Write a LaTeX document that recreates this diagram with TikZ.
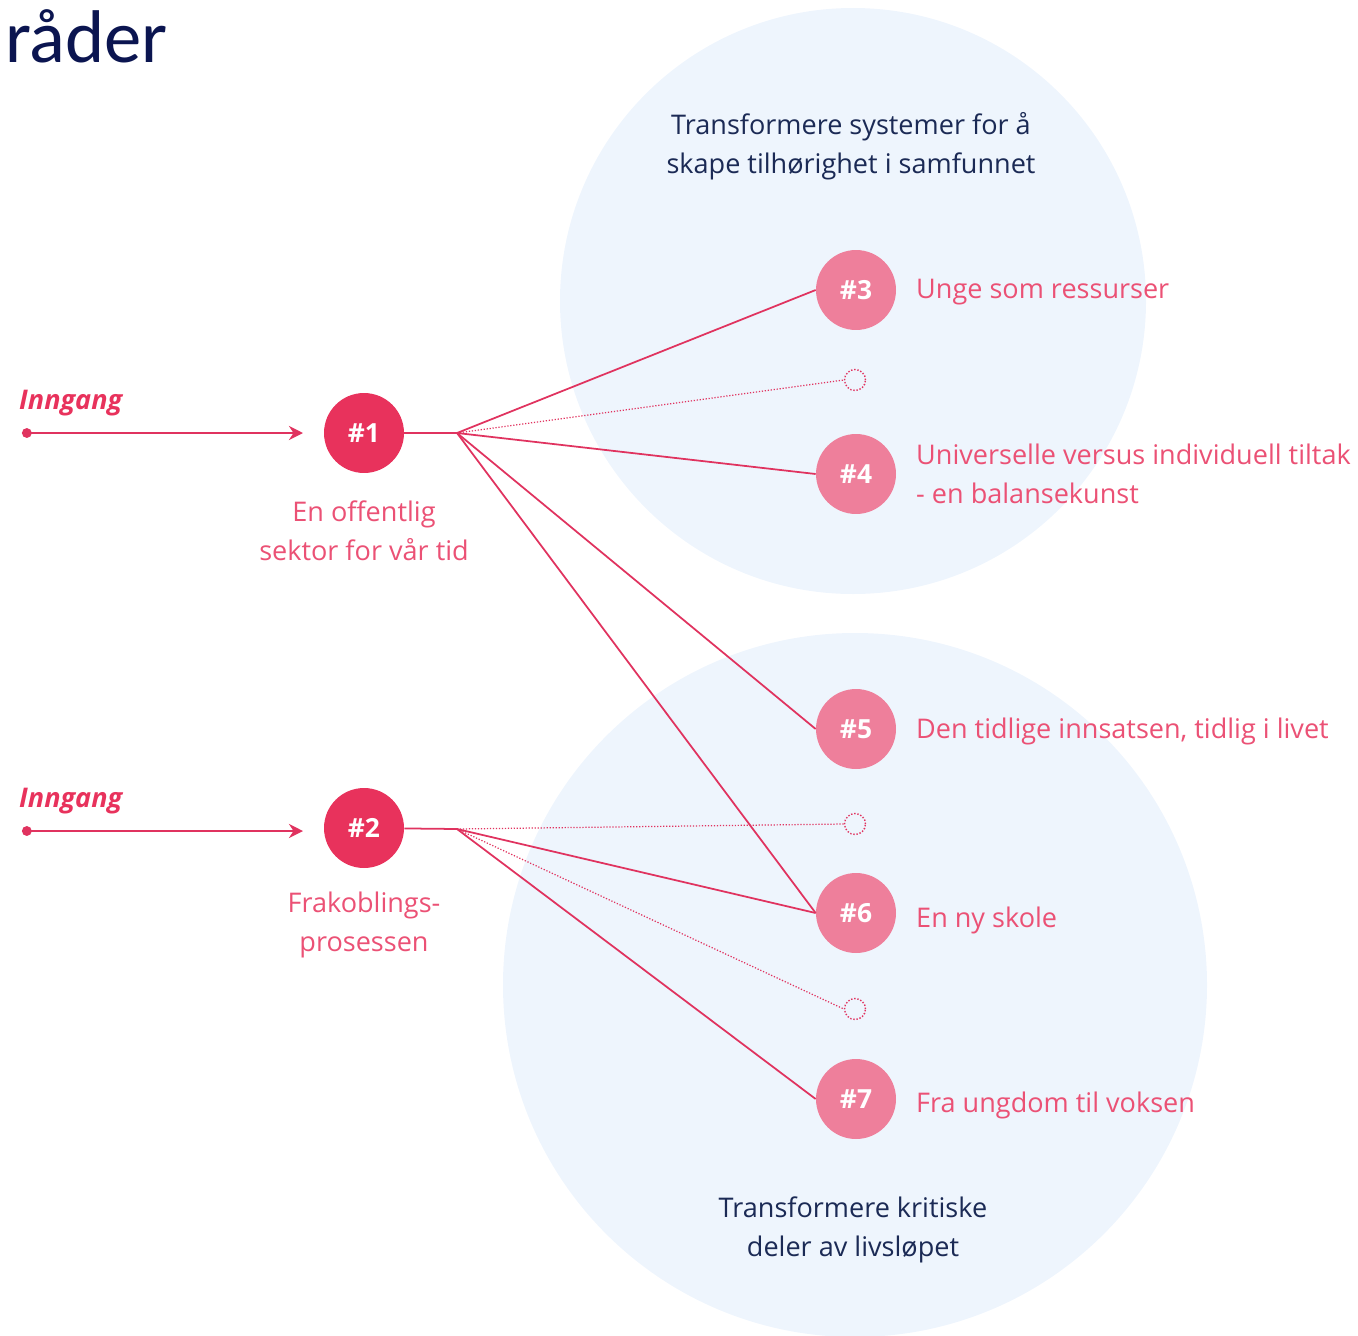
\documentclass[tikz,border=0pt]{standalone}
\usepackage{fontspec}
\setmainfont{Open Sans}
\newfontfamily\titlefont{Carlito}
\usepackage{tikz}
\usetikzlibrary{arrows.meta}
\definecolor{navy}{HTML}{1B2A55}
\definecolor{titlenavy}{HTML}{0B1550}
\definecolor{hubred}{HTML}{E8325C}
\definecolor{softred}{HTML}{EE7F9B}
\definecolor{linered}{HTML}{E0335F}
\definecolor{bluebg}{HTML}{EEF5FD}

\begin{document}
\begin{tikzpicture}[x=0.02cm,y=-0.02cm,
txt/.style={font=\fontsize{15.4}{22}\selectfont},
entry/.style={circle, fill=hubred, text=white, minimum size=1.6cm, inner sep=0pt, font=\fontsize{15}{22}\selectfont\bfseries},
theme/.style={entry, fill=softred},
blank/.style={circle, draw=linered, densely dotted, line width=0.8pt, minimum size=0.42cm, inner sep=0pt},
link/.style={linered, line width=1pt},
weak/.style={linered, line width=0.7pt, densely dotted},
label/.style={txt, text=hubred!85, align=center},
rlabel/.style={txt, text=hubred!85, anchor=west, align=left},
ingress/.style={txt, text=hubred, font=\fontsize{15.4}{22}\selectfont\bfseries\itshape, anchor=west},
feed/.style={link, line width=1.5pt, {Circle[length=5.5pt]}-{Stealth[length=8pt,width=8pt]}}]
\useasboundingbox (0,0) rectangle (1358,1335);
\clip (0,0) rectangle (1358,1335);
% background fields
\fill[bluebg] (853,301) circle [radius=293];
\fill[bluebg] (855,985) circle [radius=352];
\node[txt, text=navy, align=center] (sys) at (851,146) {Transformere systemer for å\\skape tilhørighet i samfunnet};
\node[txt, text=navy, align=center] (liv) at (853,1230) {Transformere kritiske\\deler av livsløpet};
\node[anchor=west, text=titlenavy, font=\titlefont\fontsize{42.5}{44}\selectfont] (title) at (-1,36) {råder};

% entries
\node[entry] (e1) at (364,433) {\#1};
\node[entry] (e2) at (364,828) {\#2};
\node[label] (l1) at (364,531) {En offentlig\\sektor for vår tid};
\node[label] (l2) at (364,925) {Frakoblings-\\prosessen};
\node[ingress] (i1) at (13,403) {Inngang};
\node[ingress] (i2) at (13,801) {Inngang};
\coordinate (s1) at (22,433);
\coordinate (s2) at (22,831);
\coordinate (a1) at (303,433);
\coordinate (a2) at (303,831);
\draw[feed] (s1) -- (a1);
\draw[feed] (s2) -- (a2);
\coordinate (h1) at (457,433);
\coordinate (h2) at (457,829);
\draw[link] (e1) -- (h1);
\draw[link] (e2) -- (h2);

% themes
\node[theme] (t3) at (856,290) {\#3};
\node[theme] (t4) at (856,474) {\#4};
\node[theme] (t5) at (856,729) {\#5};
\node[theme] (t6) at (856,913) {\#6};
\node[theme] (t7) at (856,1099) {\#7};
\node[blank] (b1) at (855,380) {};
\node[blank] (b2) at (855,824) {};
\node[blank] (b3) at (855,1009) {};
\node[rlabel] (r3) at (910,292) {Unge som ressurser};
\node[rlabel] (r4) at (910,474) {Universelle versus individuell tiltak\\- en balansekunst};
\node[rlabel] (r5) at (910,731) {Den tidlige innsatsen, tidlig i livet};
\node[rlabel] (r6) at (910,920) {En ny skole};
\node[rlabel] (r7) at (910,1105) {Fra ungdom til voksen};

% connections
\draw[link] (h1) -- (t3.west);
\draw[weak] (h1) -- (b1.west);
\draw[link] (h1) -- (t4.west);
\draw[link] (h1) -- (t5.west);
\draw[link] (h1) -- (t6.west);
\draw[weak] (h2) -- (b2.west);
\draw[link] (h2) -- (t6.west);
\draw[weak] (h2) -- (b3.west);
\draw[link] (h2) -- (t7.west);
\end{tikzpicture}
\end{document}
